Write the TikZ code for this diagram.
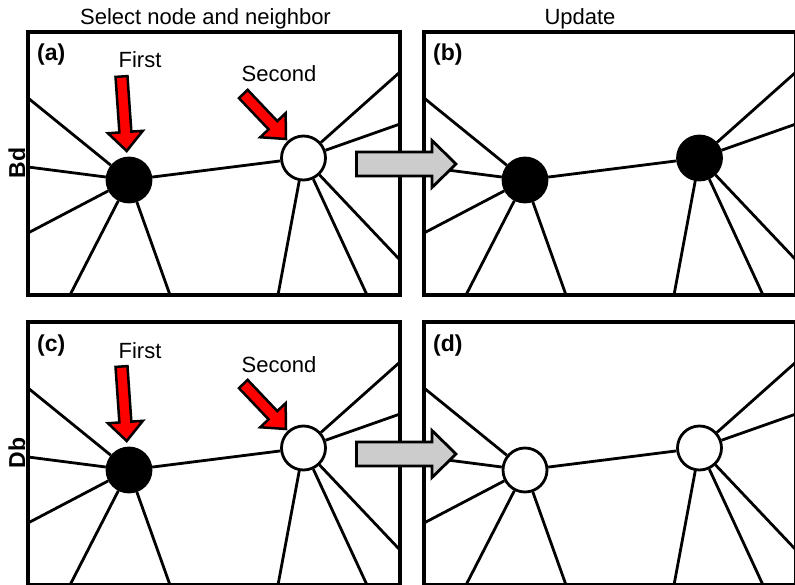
\documentclass[tikz,border=0pt]{standalone}
\usepackage{fontspec}
\setmainfont{Liberation Sans}
\usetikzlibrary{calc}
\tikzset{
 frame/.style={draw=black, line width=3.2pt},
 edge/.style={draw=black, line width=2.8pt},
 vtx/.style={circle, draw=black, line width=2.8pt, minimum size=44pt, inner sep=0pt},
 lab/.style={font=\fontsize{22}{26}\selectfont, inner sep=0pt},
 panlab/.style={font=\bfseries\fontsize{23}{27}\selectfont, inner sep=0pt},
 redarr/.style={fill=red, draw=black, line width=2.5pt},
 grayarr/.style={fill=black!20, draw=black, line width=2.8pt},
}
% tail, tip, shaft half width, head half width, head length, style
\newcommand\fatarr[6]{%
 \coordinate (H) at ($(#2)!#5!(#1)$);
 \path[#6] ($(#1)!#3!90:(#2)$) -- ($(H)!#3!90:(#2)$) -- ($(H)!#4!90:(#2)$) -- (#2)
   -- ($(H)!#4!-90:(#2)$) -- ($(H)!#3!-90:(#2)$) -- ($(#1)!#3!-90:(#2)$) -- cycle;
}
% prefix, xshift, yshift, fill of first node, fill of second node, label
\newcommand\panel[6]{%
\begin{scope}[shift={(#2,#3)}]
 \coordinate (#1l1) at (28,98);
 \coordinate (#1l2) at (28,167);
 \coordinate (#1l3) at (28,233);
 \coordinate (#1b1) at (70,295);
 \coordinate (#1b2) at (170,295);
 \coordinate (#1r1) at (400,72);
 \coordinate (#1r2) at (400,124);
 \coordinate (#1r3) at (400,260);
 \coordinate (#1b3) at (278,295);
 \coordinate (#1b4) at (367,295);
 \node[vtx, fill=#4] (#1n1) at (129,180) {};
 \node[vtx, fill=#5] (#1n2) at (303.5,158) {};
 \foreach \k in {l1,l2,l3,b1,b2} \draw[edge] (#1n1) -- (#1\k);
 \foreach \k in {r1,r2,r3,b3,b4} \draw[edge] (#1n2) -- (#1\k);
 \draw[edge] (#1n1) -- (#1n2);
 \draw[frame] (28,32) rectangle (400,295);
 \node[panlab, anchor=base west] (#1lab) at (37,61) {#6};
\end{scope}}
\begin{document}
\begin{tikzpicture}[x=1pt, y=-1pt]
\useasboundingbox (0,0) rectangle (795,585);
\fill[white] (0,0) rectangle (795,585);

\panel{a}{0}{0}{black}{white}{(a)}
\panel{b}{396}{0}{black}{black}{(b)}
\panel{c}{0}{290}{black}{white}{(c)}
\panel{d}{396}{290}{white}{white}{(d)}

\node[lab, anchor=base] (t1) at (205.5,25) {Select node and neighbor};
\node[lab, anchor=base] (t2) at (580,25) {Update};
\node[panlab, rotate=90, anchor=base] (bd) at (25,163) {Bd};
\node[panlab, rotate=90, anchor=base] (db) at (25,453) {Db};

\node[lab, anchor=base] (first1) at (140,68) {First};
\node[lab, anchor=base] (second1) at (279,82) {Second};
\node[lab, anchor=base] (first2) at (140,358) {First};
\node[lab, anchor=base] (second2) at (279,372) {Second};

\coordinate (af0) at (121.5,76.5);  \coordinate (af1) at (126.7,151);
\coordinate (as0) at (243.3,94);  \coordinate (as1) at (286,139);
\coordinate (cf0) at (121.5,366.5); \coordinate (cf1) at (126.7,441);
\coordinate (cs0) at (243.3,384); \coordinate (cs1) at (286,429);
\fatarr{af0}{af1}{6pt}{17.5pt}{19pt}{redarr}
\fatarr{as0}{as1}{6pt}{17.5pt}{19pt}{redarr}
\fatarr{cf0}{cf1}{6pt}{17.5pt}{19pt}{redarr}
\fatarr{cs0}{cs1}{6pt}{17.5pt}{19pt}{redarr}

\coordinate (g0) at (356.5,164); \coordinate (g1) at (456,164);
\coordinate (h0) at (356.5,454); \coordinate (h1) at (456,454);
\fatarr{g0}{g1}{12pt}{23.5pt}{24pt}{grayarr}
\fatarr{h0}{h1}{12pt}{23.5pt}{24pt}{grayarr}
\end{tikzpicture}
\end{document}
